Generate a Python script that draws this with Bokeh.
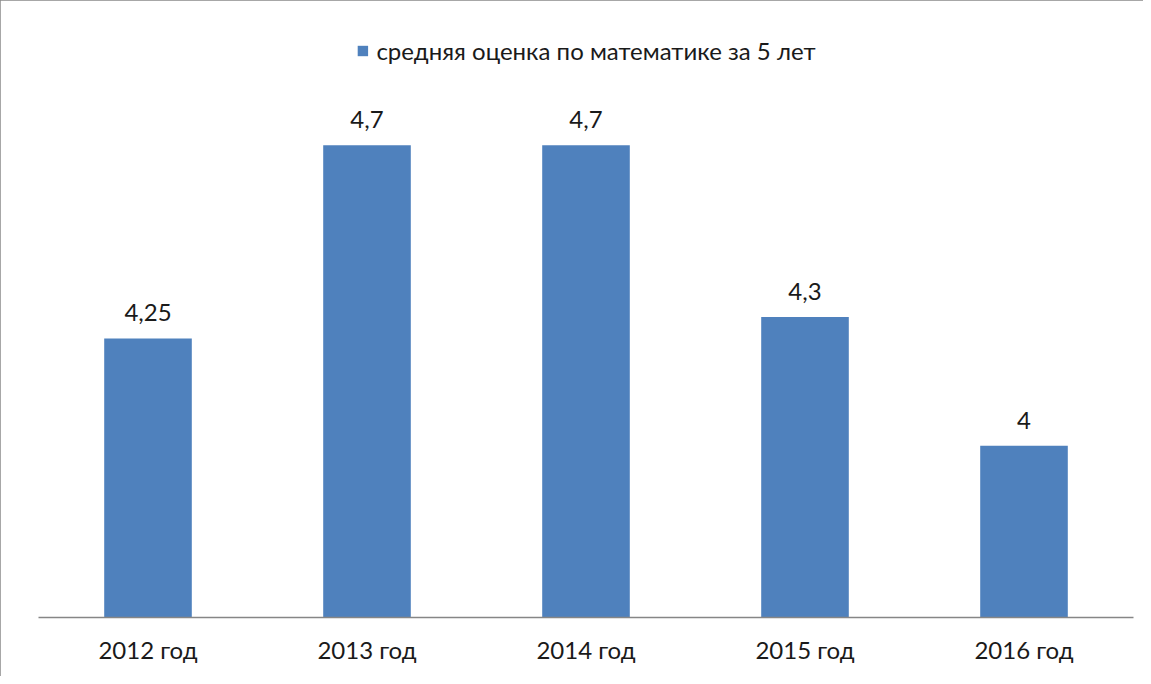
from bokeh.plotting import figure
from bokeh.models import ColumnDataSource, LabelSet, Legend, LegendItem, FactorRange, Range1d
from bokeh.core.properties import value
from bokeh.embed import file_html
from bokeh.resources import INLINE

categories = ["2012 год", "2013 год", "2014 год", "2015 год", "2016 год"]
values = [4.25, 4.7, 4.7, 4.3, 4.0]
series_name = "средняя оценка по математике за 5 лет"

labels = [f"{v:g}".replace(".", ",") for v in values]
src = ColumnDataSource(dict(cat=categories, val=values, lab=labels))

FONT = "Lato"
BAR = "#4f81bd"
TXT = "#1a1a1a"

p = figure(width=1143, height=676, output_backend="svg", toolbar_location=None,
           x_range=FactorRange(*categories, range_padding=0),
           y_range=Range1d(3.6, 5.0),
           min_border_left=38, min_border_right=10, min_border_top=16, min_border_bottom=59)
p.styles = {"outline": "2px solid #8a8a8a", "outline-offset": "-2px"}

r = p.vbar(x="cat", top="val", bottom=3.6, width=0.4, source=src, color=BAR, line_color=None)

p.add_layout(LabelSet(x="cat", y="val", text="lab", source=src, text_align="center",
                      text_baseline="alphabetic", y_offset=17, text_font=value(FONT),
                      text_font_size="24px", text_color=TXT))

legend = Legend(items=[LegendItem(label=series_name, renderers=[r])], location="top_center",
                orientation="horizontal", border_line_color=None, background_fill_alpha=0,
                glyph_width=13, glyph_height=13, label_standoff=8, padding=0, margin=20,
                label_text_font=FONT, label_text_font_size="24px", label_text_color=TXT)
p.add_layout(legend)

p.yaxis.visible = False
p.xgrid.visible = False
p.ygrid.visible = False
p.outline_line_color = None
p.xaxis.axis_line_color = "#868686"
p.xaxis.axis_line_width = 1.5
p.xaxis.major_tick_line_color = None
p.xaxis.minor_tick_line_color = None
p.xaxis.major_label_standoff = 11
p.xaxis.major_label_text_font = FONT
p.xaxis.major_label_text_font_size = "24px"
p.xaxis.major_label_text_color = TXT

open("out.html", "w").write(file_html(p, INLINE))
